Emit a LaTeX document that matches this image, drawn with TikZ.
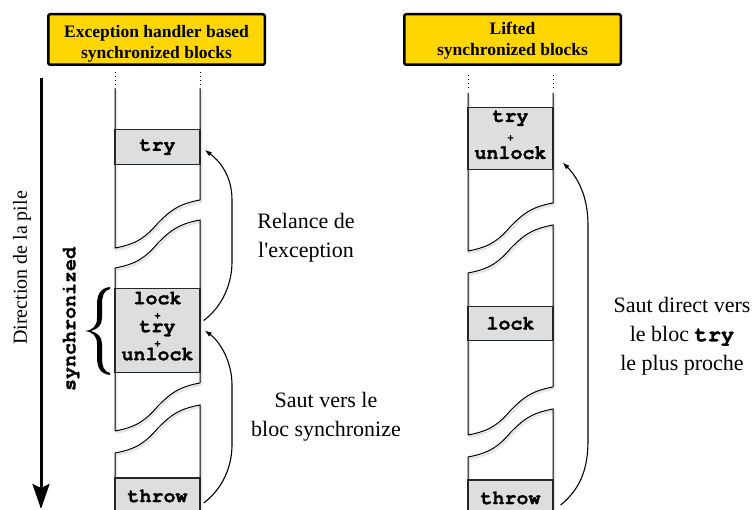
\documentclass[tikz,border=0pt]{standalone}
\usepackage{fontspec}
\setmainfont{Liberation Serif}
\setmonofont{TeX Gyre Cursor}[BoldFeatures={FakeBold=1.2}]
\usetikzlibrary{arrows.meta}

\definecolor{titleyellow}{RGB}{255,214,0}
\definecolor{blockgray}{RGB}{221,222,224}

% torn edge of a stack column (right side to left side)
\newcommand{\tear}{.. controls +(-22,4) and +(12,-12) .. ++(-42,23) .. controls +(-12,14) and +(22,-4) .. ++(-43,25)}
% extra height above / depth below a line of a block
\newcommand{\up}[1]{\rule{0pt}{#1}}
\newcommand{\dn}[1]{\rule[-#1]{0pt}{#1}}

\tikzset{
  titlebox/.style={draw=black, line width=2.5pt, fill=titleyellow, rounded corners=2pt,
    minimum width=216.5pt, minimum height=50.5pt, inner sep=0pt, align=center,
    font=\fontsize{17.5}{21}\selectfont\bfseries},
  stackbox/.style={draw=black!85, line width=1.4pt, fill=blockgray, minimum width=85pt,
    inner sep=0pt, align=center, font=\fontsize{20}{14}\selectfont\ttfamily\bfseries},
  colline/.style={line width=1pt,
    preaction={draw=black!10, line width=2.2pt, transform canvas={shift={(1.2pt,-1.8pt)}}}},
  coldots/.style={line width=1pt, dash pattern=on 1pt off 3pt},
  jump/.style={line width=1.1pt, -{Latex[length=7pt,width=5pt]}},
  note/.style={align=center, font=\fontsize{22}{29}\selectfont}
}

\begin{document}
\begin{tikzpicture}[x=1pt,y=-1pt]
\useasboundingbox (0,0) rectangle (756,510);

% Title boxes
\node[titlebox] (ltitle) at (156.5,39.5) {\up{20pt}Exception handler based\\synchronized blocks};
\node[titlebox] (rtitle) at (512.5,39.5) {\up{14pt}Lifted\\synchronized blocks};

% Direction of the stack
\draw[line width=3pt, -{Stealth[length=25pt,width=17pt,inset=4pt]}] (41,78) -- (41,509);
\node[rotate=90, font=\fontsize{20}{24}\selectfont] (dirlabel) at (22,268) {Direction de la pile};

% Left stack: dotted top
\draw[coldots] (115,72) -- (115,86);
\draw[coldots] (200,72) -- (200,86);

% Left stack: upper part
\draw[colline] (200,88) -- (200,200) \tear -- (115,88);
% Left stack: middle part
\draw[colline] (200,383) -- (200,220) \tear -- (115,431);
\draw[colline] (200,383) \tear;
% Left stack: lower part
\draw[colline] (200,510) -- (200,405) \tear -- (115,510);

% Left stack: frames
\node[stackbox, minimum height=35pt] (ltry) at (157.5,147) {try};
\node[stackbox, minimum height=84pt] (llock) at (157.5,330.5)
  {lock\\{\fontsize{10}{14}\selectfont +}\\try\\{\fontsize{10}{14}\selectfont +}\\unlock\dn{9pt}};
\node[stackbox, minimum height=36pt] (lthrow) at (157.5,496) {throw};

% synchronized brace
\fill (110,287) .. controls (100,288) and (97,295) .. (97,305) -- (97,318)
  .. controls (97,326) and (93,330) .. (85,331) .. controls (93,332) and (97,336) .. (97,344)
  -- (97,357) .. controls (97,367) and (100,374) .. (110,375) -- (110,373)
  .. controls (104,372) and (102,366) .. (102,358) -- (102,344)
  .. controls (102,337) and (98,333) .. (91,331) .. controls (98,329) and (102,325) .. (102,318)
  -- (102,304) .. controls (102,296) and (104,290) .. (110,289) -- cycle;
\node[rotate=90, font=\fontsize{20}{24}\selectfont\ttfamily\bfseries] (synclabel) at (71,319) {synchronized};

% Left stack: jumps
\draw[jump] ([xshift=3pt,yshift=10pt]llock.east) .. controls +(20,-15) and +(0,20) .. (232,262)
  -- (232,200) .. controls +(0,-25) and +(14,10) .. ([xshift=4pt,yshift=-3pt]ltry.east);
\draw[jump] ([xshift=3pt,yshift=-7pt]lthrow.east) .. controls +(20,-15) and +(0,20) .. (232,445)
  -- (232,385) .. controls +(0,-25) and +(14,10) .. ([xshift=4pt]llock.east);

\node[note] (lrelance) at (306,238) {Relance de\\l\textquotesingle exception};
\node[note] (lsaut) at (326,417) {Saut vers le\\bloc synchronize};

% Right stack: dotted top
\draw[coldots] (468,75) -- (468,90);
\draw[coldots] (553,75) -- (553,90);

% Right stack: upper part
\draw[colline] (553,93) -- (553,203) \tear -- (468,93);
% Right stack: middle part
\draw[colline] (553,387) -- (553,225) \tear -- (468,435);
\draw[colline] (553,387) \tear;
% Right stack: lower part
\draw[colline] (553,510) -- (553,409) \tear -- (468,510);

% Right stack: frames
\node[stackbox, minimum height=62pt, font=\fontsize{20}{18.5}\selectfont\ttfamily\bfseries] (rtry) at (510.5,138.5)
  {try\\{\fontsize{10}{18.5}\selectfont +}\\unlock\dn{8pt}};
\node[stackbox, minimum height=34pt] (rlock) at (510.5,323.5) {lock};
\node[stackbox, minimum height=36pt] (rthrow) at (510.5,498) {throw};

% Right stack: direct jump
\draw[jump] ([xshift=7pt,yshift=-7pt]rthrow.east) .. controls +(22,-18) and +(0,25) .. (588,440)
  -- (588,225) .. controls +(0,-30) and +(14,14) .. ([xshift=9pt,yshift=-24pt]rtry.east);

\node[note] (rsaut) at (682,336) {Saut direct vers\\le bloc {\ttfamily\bfseries try}\\le plus proche};

\end{tikzpicture}
\end{document}
